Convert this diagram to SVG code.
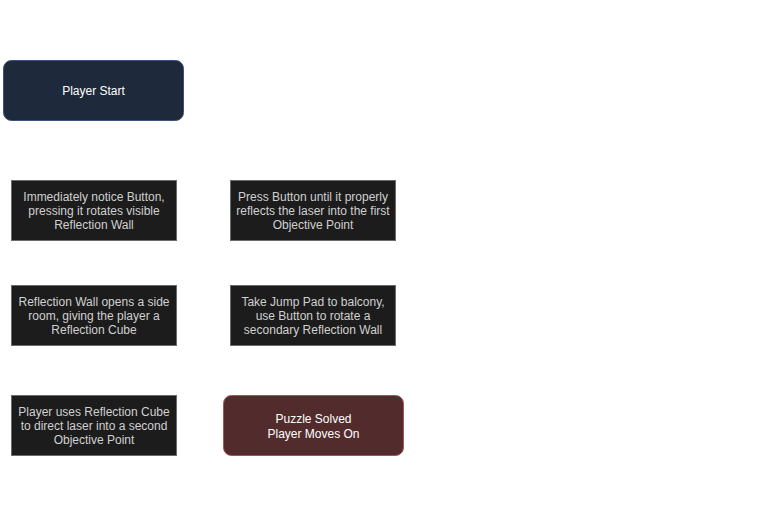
<svg xmlns="http://www.w3.org/2000/svg" width="757" height="531" viewBox="0 0 757 531">
<style>
text{font-family:"Liberation Sans",Arial,sans-serif;font-size:12px;text-anchor:middle}
.step rect{fill:#1c1c1c;stroke:#6b6b6b;stroke-width:1}
.step text{fill:#d0d0d0}
.start rect{fill:#1e293b;stroke:#3d5278;stroke-width:1}
.end rect{fill:#522c2c;stroke:#a05656;stroke-width:1}
.start text,.end text{fill:#ffffff}
</style>
<rect width="757" height="531" fill="#ffffff"/>
<g id="connectors"></g>
<g id="start" class="start">
<rect x="3.5" y="60.5" width="180" height="60" rx="8"/>
<text x="93.5" y="95">Player Start</text>
</g>
<g id="step1" class="step">
<rect x="11.5" y="180.5" width="165" height="60"/>
<text x="94" y="201">Immediately notice Button,</text>
<text x="94" y="215">pressing it rotates visible</text>
<text x="94" y="229">Reflection Wall</text>
</g>
<g id="step2" class="step">
<rect x="230.5" y="180.5" width="165" height="60"/>
<text x="313" y="201">Press Button until it properly</text>
<text x="313" y="215">reflects the laser into the first</text>
<text x="313" y="229">Objective Point</text>
</g>
<g id="step3" class="step">
<rect x="11.5" y="285.5" width="165" height="60"/>
<text x="94" y="306">Reflection Wall opens a side</text>
<text x="94" y="320">room, giving the player a</text>
<text x="94" y="334">Reflection Cube</text>
</g>
<g id="step4" class="step">
<rect x="230.5" y="285.5" width="165" height="60"/>
<text x="313" y="306">Take Jump Pad to balcony,</text>
<text x="313" y="320">use Button to rotate a</text>
<text x="313" y="334">secondary Reflection Wall</text>
</g>
<g id="step5" class="step">
<rect x="11.5" y="395.5" width="165" height="60"/>
<text x="94" y="416">Player uses Reflection Cube</text>
<text x="94" y="430">to direct laser into a second</text>
<text x="94" y="444">Objective Point</text>
</g>
<g id="end" class="end">
<rect x="223.5" y="395.5" width="180" height="60" rx="8"/>
<text x="313.5" y="423">Puzzle Solved</text>
<text x="313.5" y="438">Player Moves On</text>
</g>
</svg>
